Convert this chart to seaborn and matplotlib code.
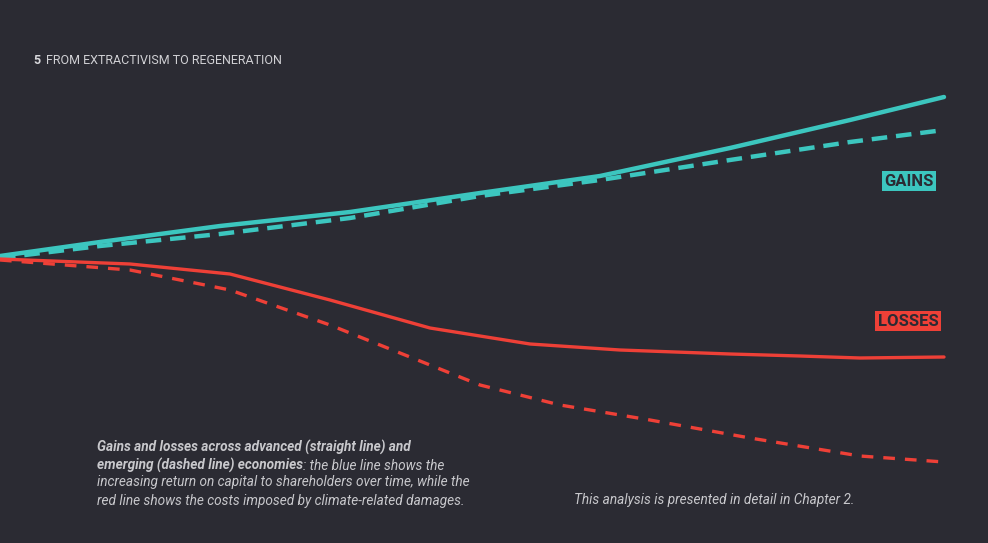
import matplotlib.pyplot as plt
import seaborn as sns
import pandas as pd

# values (arbitrary index units, higher = more)
x_gain = [0, 100, 220, 350, 480, 600, 730, 850, 944]
gain_adv = [287, 301, 317, 331, 350, 367, 395, 423, 446]
gain_emg = [285, 297, 309, 325, 347, 363, 383, 401, 413]
x_loss = [0, 130, 230, 330, 430, 530, 620, 730, 800, 860, 944]
loss_adv = [284, 279, 269, 243, 215, 199, 193, 189, 187, 185, 186]
x_loss_e = [0, 130, 230, 330, 430, 480, 560, 650, 750, 860, 944]
loss_emg = [283, 273, 253, 218, 178, 158, 138, 123, 105, 87, 81]

bg = "#2b2b33"
teal = "#3cc6bf"
red = "#ee4037"

sns.set_theme(style="dark", rc={"axes.facecolor": bg, "figure.facecolor": bg})
plt.rcParams['font.family'] = ['Roboto', 'DejaVu Sans']

fig = plt.figure(figsize=(9.88, 5.43), dpi=100)
ax = fig.add_axes([0, 0, 1, 1])

sns.lineplot(x=x_gain, y=gain_adv, color=teal, lw=3.2, ax=ax)
sns.lineplot(x=x_gain, y=gain_emg, color=teal, lw=3.2, ax=ax, linestyle=(0, (3.5, 2)))
sns.lineplot(x=x_loss, y=loss_adv, color=red, lw=2.4, ax=ax)
sns.lineplot(x=x_loss_e, y=loss_emg, color=red, lw=2.4, ax=ax, linestyle=(0, (3.5, 3)))

ax.set_xlim(0, 988)
ax.set_ylim(0, 543)
ax.axis("off")

fig.text(0.034, 0.889, "5", color="#d8d8dc", fontsize=9, fontweight="bold", va="center")
fig.text(0.047, 0.889, "FROM EXTRACTIVISM TO REGENERATION", color="#d0d0d4", fontsize=9, va="center")

ax.text(909, 362, "GAINS", color=bg, fontsize=12, fontweight="bold", ha="center", va="center",
        bbox=dict(boxstyle="square,pad=0.15", fc=teal, ec="none"))
ax.text(908, 222, "LOSSES", color=bg, fontsize=12, fontweight="bold", ha="center", va="center",
        bbox=dict(boxstyle="square,pad=0.15", fc=red, ec="none"))

cap_color = "#c8c8cc"
fs = 9.8
fig.text(0.098, 0.189, "Gains and losses across advanced (straight line) and",
         color=cap_color, fontsize=fs, style="italic", fontweight="bold", va="top")
b2 = fig.text(0.098, 0.157, "emerging (dashed line) economies",
              color=cap_color, fontsize=fs, style="italic", fontweight="bold", va="top")
ax.annotate(": the blue line shows the", xy=(1, 0), xycoords=b2, va="bottom",
            color=cap_color, fontsize=fs, style="italic")
fig.text(0.098, 0.126, "increasing return on capital to shareholders over time, while the\n"
         "red line shows the costs imposed by climate-related damages.",
         color=cap_color, fontsize=fs, style="italic", va="top", linespacing=1.45)
fig.text(0.581, 0.092, "This analysis is presented in detail in Chapter 2.", color=cap_color,
         fontsize=fs, style="italic", va="top")

fig.savefig("out.png", dpi=100, facecolor=bg)
